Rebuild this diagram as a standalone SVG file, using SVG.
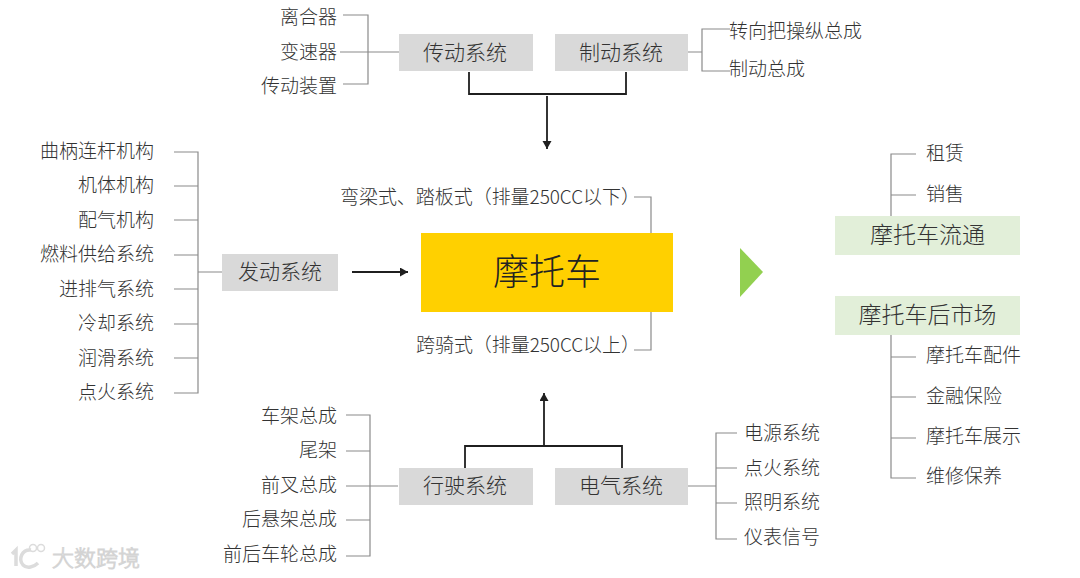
<svg xmlns="http://www.w3.org/2000/svg" width="1080" height="578" viewBox="0 0 1080 578">
<style>
text{font-family:"Noto Sans CJK SC","Noto Sans",sans-serif;fill:#333;font-weight:300}
.s{font-size:19px;text-anchor:end}
.l{font-size:19px;text-anchor:start}
.m{font-size:21px;text-anchor:middle}
.g{font-size:23px;text-anchor:middle}
.c{fill:none;stroke:#8a8a8a;stroke-width:1.2}
.k{fill:none;stroke:#1f1f1f;stroke-width:1.8}
.box{fill:#d9d9d9}
.gb{fill:#e2efd9}
.wm{fill:#fff;stroke:#d4d4d4;stroke-width:1;font-size:22px}
</style>
<defs><marker id="a" markerWidth="10" markerHeight="10" refX="8" refY="4.500" orient="auto" markerUnits="userSpaceOnUse"><path d="M0 0L8 4.500L0 9Z" fill="#1f1f1f"/></marker></defs>
<rect width="1080" height="578" fill="#fff"/>
<g id="connectors">
<path class="c" d="M343 15H368V84H343M340 52H399"/>
<path class="c" d="M688 52H702M730 29H702V71H730"/>
<path class="k" d="M469 72V94H626V72"/>
<path class="k" d="M547 96V149" marker-end="url(#a)"/>
<path class="c" d="M174 152H198V393H174M174 186H198M174 220H198M174 255H198M174 289H198M174 324H198M174 358H198M198 272H222"/>
<path class="k" d="M352 272H408" marker-end="url(#a)"/>
<path class="c" d="M634 197H651V233M634 350H651V312"/>
<path class="c" d="M346 415H370V556H346M346 451H370M346 486H398M346 520H370"/>
<path class="k" d="M465 468V446H622V468"/>
<path class="k" d="M544 446V393" marker-end="url(#a)"/>
<path class="c" d="M688 486H716M737 433H716V539H737M737 468H716M737 503H716"/>
<path class="c" d="M891 216V154H916M891 195H916"/>
<path class="c" d="M891 335V478H916M891 357H916M891 397H916M891 438H916"/>
</g>
<g id="n-clutch"><text class="s" x="337" y="24">离合器</text></g>
<g id="n-gearbox"><text class="s" x="337" y="59">变速器</text></g>
<g id="n-transdev"><text class="s" x="337" y="93">传动装置</text></g>
<g id="n-trans"><rect class="box" x="399" y="34" width="134" height="37"/><text class="m" x="465" y="60">传动系统</text></g>
<g id="n-brake"><rect class="box" x="555" y="34" width="133" height="37"/><text class="m" x="621" y="60">制动系统</text></g>
<g id="n-steer"><text class="l" x="729" y="38">转向把操纵总成</text></g>
<g id="n-brakeasm"><text class="l" x="729" y="76">制动总成</text></g>
<g id="n-e1"><text class="s" x="154" y="158">曲柄连杆机构</text></g>
<g id="n-e2"><text class="s" x="154" y="192">机体机构</text></g>
<g id="n-e3"><text class="s" x="154" y="227">配气机构</text></g>
<g id="n-e4"><text class="s" x="154" y="261">燃料供给系统</text></g>
<g id="n-e5"><text class="s" x="154" y="296">进排气系统</text></g>
<g id="n-e6"><text class="s" x="154" y="330">冷却系统</text></g>
<g id="n-e7"><text class="s" x="154" y="365">润滑系统</text></g>
<g id="n-e8"><text class="s" x="154" y="399">点火系统</text></g>
<g id="n-engine"><rect class="box" x="222" y="254" width="116" height="37"/><text class="m" x="280" y="279">发动系统</text></g>
<g id="n-moto"><rect x="421" y="233" width="252" height="79" fill="#ffd000"/><text x="547" y="285" font-size="36" text-anchor="middle" style="fill:#222">摩托车</text></g>
<g id="n-scooter"><text class="l" x="340" y="204" textLength="300" lengthAdjust="spacing">弯梁式、踏板式（排量250CC以下）</text></g>
<g id="n-straddle"><text class="l" x="416" y="352" textLength="224" lengthAdjust="spacing">跨骑式（排量250CC以上）</text></g>
<g id="n-f1"><text class="s" x="337" y="423">车架总成</text></g>
<g id="n-f2"><text class="s" x="337" y="457">尾架</text></g>
<g id="n-f3"><text class="s" x="337" y="492">前叉总成</text></g>
<g id="n-f4"><text class="s" x="337" y="526">后悬架总成</text></g>
<g id="n-f5"><text class="s" x="337" y="561">前后车轮总成</text></g>
<g id="n-run"><rect class="box" x="399" y="468" width="134" height="37"/><text class="m" x="465" y="493">行驶系统</text></g>
<g id="n-elec"><rect class="box" x="555" y="468" width="133" height="37"/><text class="m" x="621" y="493">电气系统</text></g>
<g id="n-p1"><text class="l" x="744" y="440">电源系统</text></g>
<g id="n-p2"><text class="l" x="744" y="475">点火系统</text></g>
<g id="n-p3"><text class="l" x="744" y="509">照明系统</text></g>
<g id="n-p4"><text class="l" x="744" y="544">仪表信号</text></g>
<path id="n-tri" d="M740 248L763 272L740 297Z" fill="#92d050"/>
<g id="n-rent"><text class="l" x="926" y="160">租赁</text></g>
<g id="n-sale"><text class="l" x="926" y="201">销售</text></g>
<g id="n-circ"><rect class="gb" x="835" y="216" width="185" height="39"/><text class="g" x="927.500" y="243">摩托车流通</text></g>
<g id="n-after"><rect class="gb" x="835" y="296" width="185" height="39"/><text class="g" x="927.500" y="323">摩托车后市场</text></g>
<g id="n-a1"><text class="l" x="926" y="362">摩托车配件</text></g>
<g id="n-a2"><text class="l" x="926" y="403">金融保险</text></g>
<g id="n-a3"><text class="l" x="926" y="443">摩托车展示</text></g>
<g id="n-a4"><text class="l" x="926" y="483">维修保养</text></g>
<g id="watermark">
<path d="M12 554L16 550V566M31 550C22 549 18 559 23 565C27 569 34 567 38 563" fill="none" stroke="#dcdcdc" stroke-width="3.500"/>
<circle cx="33" cy="548" r="3.500" fill="none" stroke="#dcdcdc" stroke-width="1.500"/>
<circle cx="41" cy="548" r="3.500" fill="none" stroke="#dcdcdc" stroke-width="1.500"/>
<text class="wm" x="52" y="566">大数跨境</text>
</g>
</svg>
